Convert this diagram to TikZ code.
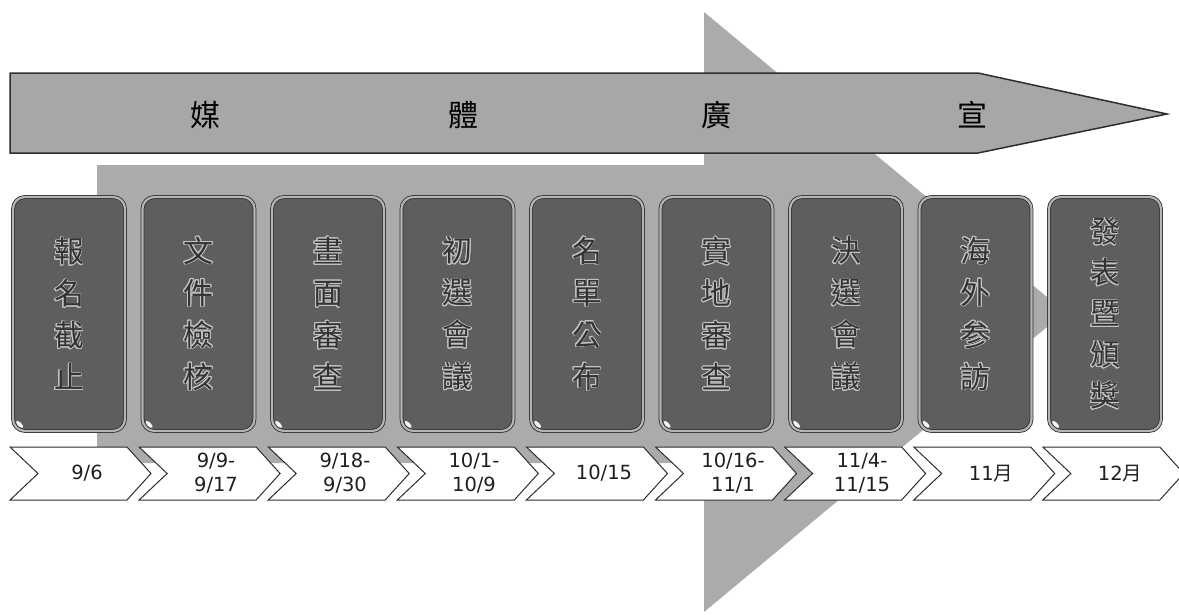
\documentclass[tikz,border=0pt]{standalone}
\usepackage{fontspec}
\setmainfont{DejaVu Sans}
\newfontfamily\cjk{Noto Sans CJK TC}
\usepackage[copies]{contour}
\contourlength{0.7pt}
\contournumber{20}
\usetikzlibrary{calc,shapes.geometric}
\definecolor{arrowgray}{HTML}{A7A7A7}
\definecolor{biggray}{HTML}{ABABAB}
\definecolor{boxgray}{HTML}{5E5E5E}
\definecolor{boxring}{HTML}{B5B5B5}
\definecolor{edge}{HTML}{2E2E2E}
\definecolor{boxtext}{HTML}{333333}
\definecolor{halo}{HTML}{C4C4C4}
\newcommand\ch[1]{\contour{halo}{#1}}
\begin{document}
\begin{tikzpicture}[x=1pt,y=-1pt,
  stage/.style={draw=edge, line width=0.8pt, double=boxring, double distance=2.2pt,
    fill=boxgray, rounded corners=12pt, minimum width=112pt, minimum height=234pt,
    inner sep=0pt, text=boxtext, font=\cjk\fontsize{30}{42}\selectfont, align=center},
  hilite/.style={ellipse, fill=white!92!gray, minimum width=9pt, minimum height=4pt, inner sep=0pt, rotate=-45},
  datebox/.style={draw=edge, line width=1pt, fill=white},
  datetext/.style={font=\fontsize{19.5}{24}\selectfont, align=center, text=black!88, inner sep=0pt},
  banner/.style={draw=edge, line width=1.5pt, fill=arrowgray},
  bannertext/.style={font=\cjk\fontsize{30}{30}\selectfont, text=black, inner sep=0pt},
]
\useasboundingbox (0,0) rectangle (1179,614);
% big background arrow
\fill[biggray] (97,165) -- (704,165) -- (704,12) -- (1065,312) -- (704,612) -- (704,463) -- (97,463) -- cycle;
% media banner arrow
\draw[banner] (10,73) -- (978,73) -- (1167,114) -- (978,153) -- (10,153) -- cycle;
\node[bannertext] (m1) at (205,115) {媒};
\node[bannertext] (m2) at (463,115) {體};
\node[bannertext] (m3) at (716,115) {廣};
\node[bannertext] (m4) at (972,115) {宣};
% stage boxes
\node[stage] (b1) at (69,314)    {\ch{報}\\\ch{名}\\\ch{截}\\\ch{止}};
\node[stage] (b2) at (198.5,314) {\ch{文}\\\ch{件}\\\ch{檢}\\\ch{核}};
\node[stage] (b3) at (328,314)   {\ch{畫}\\\ch{面}\\\ch{審}\\\ch{查}};
\node[stage] (b4) at (457.5,314) {\ch{初}\\\ch{選}\\\ch{會}\\\ch{議}};
\node[stage] (b5) at (587,314)   {\ch{名}\\\ch{單}\\\ch{公}\\\ch{布}};
\node[stage] (b6) at (716.5,314) {\ch{實}\\\ch{地}\\\ch{審}\\\ch{查}};
\node[stage] (b7) at (846,314)   {\ch{決}\\\ch{選}\\\ch{會}\\\ch{議}};
\node[stage] (b8) at (975.5,314) {\ch{海}\\\ch{外}\\\ch{参}\\\ch{訪}};
\node[stage, font=\cjk\fontsize{30}{41}\selectfont] (b9) at (1105,314) {\ch{發}\\\ch{表}\\\ch{暨}\\\ch{頒}\\\ch{獎}};
\foreach \i in {1,...,9}{
  \node[hilite] (h\i) at ($(b\i.south west)+(7,-7)$) {};
}
% date chevrons
\foreach \i in {1,...,9}{
  \pgfmathsetmacro{\L}{10+129.1*(\i-1)}
  \draw[datebox] (\L,447) -- (\L+117,447) -- (\L+141,473.5) -- (\L+117,500) -- (\L,500) -- (\L+28,473.5) -- cycle;
}
\node[datetext] (d1) at (87,473.5)   {9/6};
\node[datetext] (d2) at (216,473.5)  {9/9-\\9/17};
\node[datetext] (d3) at (345,473.5)  {9/18-\\9/30};
\node[datetext] (d4) at (474,473.5)  {10/1-\\10/9};
\node[datetext] (d5) at (604,473.5)  {10/15};
\node[datetext] (d6) at (733,473.5)  {10/16-\\11/1};
\node[datetext] (d7) at (862,473.5)  {11/4-\\11/15};
\node[datetext] (d8) at (991,473.5)  {11{\cjk 月}};
\node[datetext] (d9) at (1120,473.5) {12{\cjk 月}};
\end{tikzpicture}
\end{document}
